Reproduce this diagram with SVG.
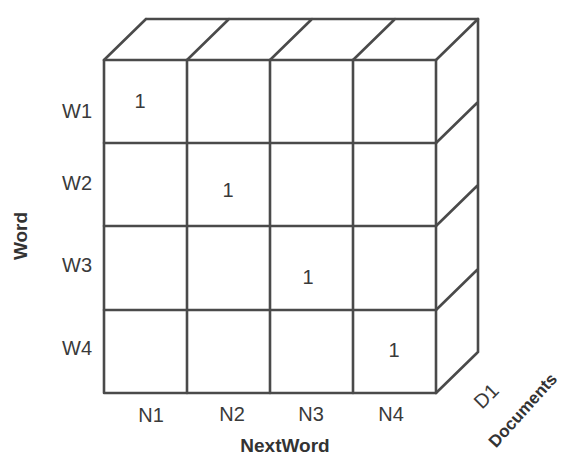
<svg xmlns="http://www.w3.org/2000/svg" width="566" height="457" viewBox="0 0 566 457">
<style>
.ln{stroke:#4a4a4a;stroke-width:2.6;fill:none;stroke-linecap:round;stroke-linejoin:round}
.t{font-family:"Liberation Sans",Arial,sans-serif;font-size:20px;fill:#3a3a3a}
.b{font-family:"Liberation Sans",Arial,sans-serif;font-size:19px;font-weight:bold;fill:#333}
</style>
<rect width="566" height="457" fill="#ffffff"/>
<g id="cube">
  <g id="front-face">
    <rect class="ln" x="104" y="60" width="332" height="333"/>
    <path class="ln" d="M187 60V393M270 60V393M353 60V393M104 143H436M104 226H436M104 310H436"/>
  </g>
  <g id="top-face">
    <path class="ln" d="M146 19H478M104 60L146 19M187 60L229 19M270 60L312 19M353 60L395 19M436 60L478 19"/>
  </g>
  <g id="side-face">
    <path class="ln" d="M478 19V352M436 143L478 102M436 226L478 185M436 310L478 269M436 393L478 352"/>
  </g>
</g>
<g id="cell-values" class="t" text-anchor="middle">
  <text x="140" y="108">1</text>
  <text x="228" y="197">1</text>
  <text x="308" y="284">1</text>
  <text x="394" y="357">1</text>
</g>
<g id="row-labels" class="t" text-anchor="end">
  <text x="92" y="118">W1</text>
  <text x="92" y="190">W2</text>
  <text x="92" y="272">W3</text>
  <text x="92" y="355">W4</text>
</g>
<g id="col-labels" class="t" text-anchor="middle">
  <text x="151" y="422">N1</text>
  <text x="232" y="421">N2</text>
  <text x="311" y="421">N3</text>
  <text x="391" y="421">N4</text>
</g>
<g id="axis-labels">
  <text class="b" text-anchor="middle" x="285" y="452">NextWord</text>
  <text class="b" text-anchor="middle" transform="translate(27 236) rotate(-90)">Word</text>
  <text class="t" text-anchor="middle" transform="translate(491 401) rotate(-45)">D1</text>
  <text class="b" text-anchor="middle" style="font-size:17px" transform="translate(527 414) rotate(-48)">Documents</text>
</g>
</svg>
